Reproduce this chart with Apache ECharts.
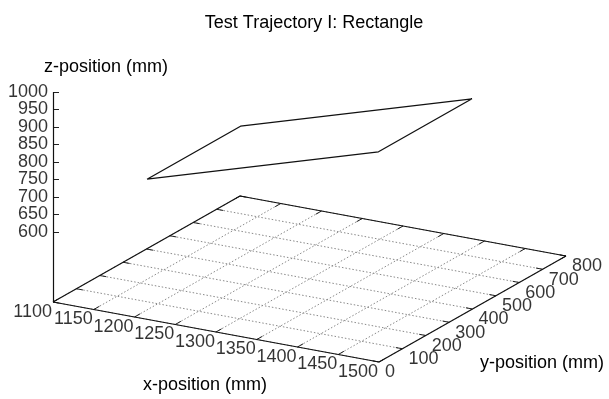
<!DOCTYPE html>
<html>
<head>
<meta charset="utf-8">
<script src="https://cdn.jsdelivr.net/npm/echarts@6/dist/echarts.min.js"></script>
<style>
  html, body { margin: 0; padding: 0; background: #fff; }
  #chart { width: 609px; height: 399px; }
</style>
</head>
<body>
<div id="chart"></div>
<script>
// Axis ticks (mm)
const xTicks = [1100, 1150, 1200, 1250, 1300, 1350, 1400, 1450, 1500];
const yTicks = [0, 100, 200, 300, 400, 500, 600, 700, 800];
const zTicks = [600, 650, 700, 750, 800, 850, 900, 950, 1000];

// Rectangle trajectory corners (mm), closed loop
const pathX = [1158, 1158, 1442, 1442, 1158];
const pathY = [200, 600, 600, 200, 200];
const pathZ = [700, 700, 900, 900, 700];

// Box extents and floor height of the 3D view
const xMin = 1100, xMax = 1500;
const yMin = 0, yMax = 800;
const zFloor = 400;

// Oblique view: pixel offsets for a full run along x and y, and px per mm of z.
// The plot grid is 1 unit = 1 px horizontally and z-mm vertically.
const VIEW = { xRun: [326, 60], yRun: [187, -106], zScale: 0.35 };

function project(x, y, z) {
  const u = (x - xMin) / (xMax - xMin);
  const v = (y - yMin) / (yMax - yMin);
  const right = u * VIEW.xRun[0] + v * VIEW.yRun[0];
  const down = u * VIEW.xRun[1] + v * VIEW.yRun[1];
  return [right, z - down / VIEW.zScale];
}

const seg = (a, b) => ({ coords: [project(...a), project(...b)] });

// Dotted floor grid
const gridSegs = [];
xTicks.forEach(x => gridSegs.push(seg([x, yMin, zFloor], [x, yMax, zFloor])));
yTicks.forEach(y => gridSegs.push(seg([xMin, y, zFloor], [xMax, y, zFloor])));

// Floor border and vertical z axis
const zTop = zTicks[zTicks.length - 1];
const borderSegs = [
  seg([xMin, yMin, zFloor], [xMax, yMin, zFloor]),
  seg([xMax, yMin, zFloor], [xMax, yMax, zFloor]),
  seg([xMax, yMax, zFloor], [xMin, yMax, zFloor]),
  seg([xMin, yMax, zFloor], [xMin, yMin, zFloor]),
  seg([xMin, yMin, zFloor], [xMin, yMin, zTop])
];

// Tick marks on the floor edges (with mirrors on the opposite edges)
const xTickLen = 24, yTickLen = 8, zTickPx = 6;
const tickSegs = [];
xTicks.forEach(x => {
  tickSegs.push(seg([x, yMin, zFloor], [x, yMin + xTickLen, zFloor]));
  tickSegs.push(seg([x, yMax, zFloor], [x, yMax - xTickLen, zFloor]));
});
yTicks.forEach(y => {
  tickSegs.push(seg([xMax, y, zFloor], [xMax - yTickLen, y, zFloor]));
  tickSegs.push(seg([xMin, y, zFloor], [xMin + yTickLen, y, zFloor]));
});
// z ticks point horizontally into the plot
zTicks.forEach(z => {
  const p = project(xMin, yMin, z);
  tickSegs.push({ coords: [p, [p[0] + zTickPx, p[1]]] });
});

const pathData = pathX.map((x, i) => project(x, pathY[i], pathZ[i]));
const xLabelData = xTicks.map(x => ({ value: project(x, yMin, zFloor), name: String(x) }));
const yLabelData = yTicks.map(y => ({ value: project(xMax, y, zFloor), name: String(y) }));
const zLabelData = zTicks.map(z => ({ value: project(xMin, yMin, z), name: String(z) }));

const FONT = 'Liberation Sans, Arial, Helvetica, sans-serif';
const TXT = '#000';

const labelScatter = (data, label) => ({
  type: 'scatter', symbolSize: 0, clip: false, silent: true, data: data,
  label: Object.assign({ show: true, formatter: '{b}', verticalAlign: 'middle', fontFamily: FONT, fontSize: 18, color: TXT }, label)
});

const chart = echarts.init(document.getElementById('chart'), null, { renderer: 'canvas' });
chart.setOption({
  backgroundColor: '#fff',
  animation: false,
  title: {
    text: 'Test Trajectory I: Rectangle',
    left: 309, top: 9, textAlign: 'center',
    textStyle: { fontFamily: FONT, fontSize: 18, fontWeight: 'normal', color: TXT }
  },
  graphic: [
    { type: 'text', x: 205, y: 385, style: { text: 'x-position (mm)', font: '18px ' + FONT, fill: TXT, textAlign: 'center', textVerticalAlign: 'middle' } },
    { type: 'text', x: 542, y: 363, style: { text: 'y-position (mm)', font: '18px ' + FONT, fill: TXT, textAlign: 'center', textVerticalAlign: 'middle' } },
    { type: 'text', x: 106, y: 67, style: { text: 'z-position (mm)', font: '18px ' + FONT, fill: TXT, textAlign: 'center', textVerticalAlign: 'middle' } }
  ],
  grid: { left: 53, top: 92, width: 550, height: (1000 - 150) * VIEW.zScale },
  xAxis: { type: 'value', min: 0, max: 550, show: false },
  yAxis: { type: 'value', min: 150, max: 1000, interval: 50, show: false },
  series: [
    {
      type: 'lines', coordinateSystem: 'cartesian2d', clip: false, silent: true,
      lineStyle: { color: '#8a8a8a', width: 1, type: [1.5, 2], opacity: 1 },
      data: gridSegs
    },
    {
      type: 'lines', coordinateSystem: 'cartesian2d', clip: false, silent: true,
      lineStyle: { color: '#222', width: 1, opacity: 1 },
      data: tickSegs
    },
    {
      type: 'lines', coordinateSystem: 'cartesian2d', clip: false, silent: true,
      lineStyle: { color: '#111', width: 1.2, opacity: 1 },
      data: borderSegs
    },
    {
      type: 'line', clip: false, silent: true, symbol: 'none',
      lineStyle: { color: '#111', width: 1.3 },
      data: pathData
    },
    labelScatter(xLabelData, { position: [-1, 10], align: 'right' }),
    labelScatter(yLabelData, { position: [6, 10.5], align: 'left' }),
    labelScatter(zLabelData, { position: [-5, 0], align: 'right' })
  ]
});
</script>
</body>
</html>
